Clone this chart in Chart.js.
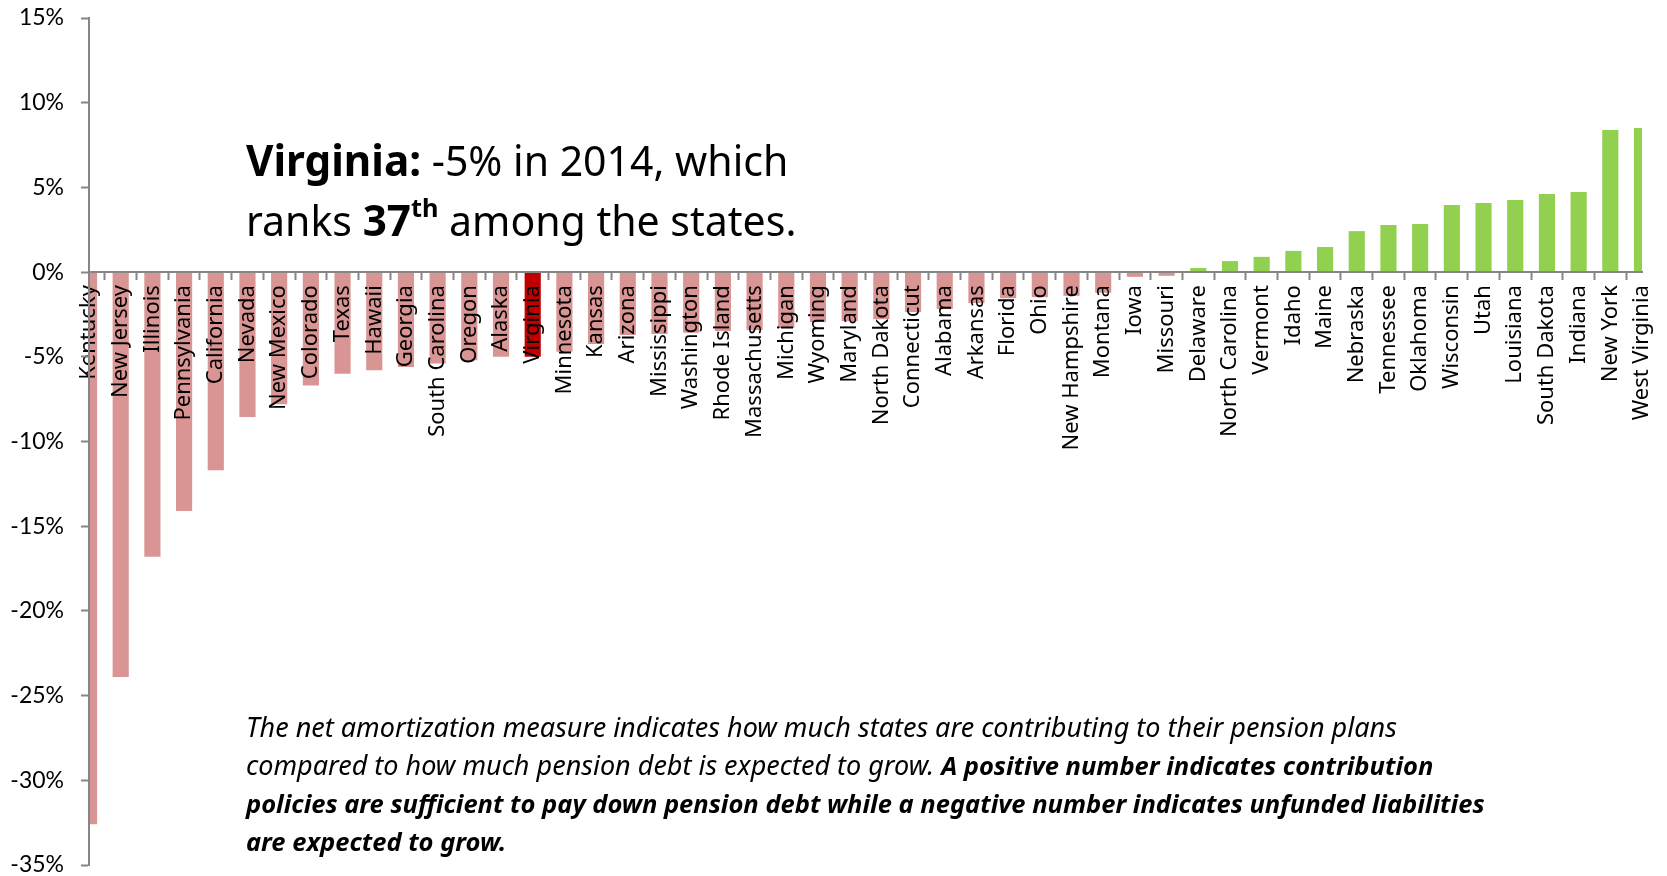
<!DOCTYPE html>
<html>
<head>
<meta charset="utf-8">
<script src="https://cdn.jsdelivr.net/npm/chart.js@4.4.1/dist/chart.umd.min.js"></script>
<style>
  html, body { margin: 0; padding: 0; background: #fff; }
  #wrap { position: relative; width: 1667px; height: 876px; }
  #callout {
    position: absolute; left: 246px; top: 130px;
    font-family: 'Noto Sans', sans-serif; font-size: 41px; line-height: 59px; color: #000;
    white-space: nowrap;
  }
  #callout b { font-size: 1.03em; }
  #callout sup { font-size: 60%; line-height: 0; vertical-align: 0; position: relative; top: -0.75em; }
  #note {
    position: absolute; left: 246px; top: 708px;
    font-family: 'Noto Sans', sans-serif; font-style: italic; font-size: 27px; line-height: 38px; color: #000;
    white-space: nowrap;
  }
  #note b { font-size: 0.945em; }
</style>
</head>
<body>
<div id="wrap">
  <canvas id="amortChart" width="1667" height="876"></canvas>
  <div id="callout"><b>Virginia:</b> -5% in 2014, which<br>ranks <b>37<sup>th</sup></b> among the states.</div>
  <div id="note">The net amortization measure indicates how much states are contributing to their pension plans<br>compared to how much pension debt is expected to grow. <b>A positive number indicates contribution</b><br><b>policies are sufficient to pay down pension debt while a negative number indicates unfunded liabilities</b><br><b>are expected to grow.</b></div>
</div>
<script>
// net amortization, 2014 (%), sorted low to high
const states = ['Kentucky', 'New Jersey', 'Illinois', 'Pennsylvania', 'California', 'Nevada', 'New Mexico',
  'Colorado', 'Texas', 'Hawaii', 'Georgia', 'South Carolina', 'Oregon', 'Alaska', 'Virginia',
  'Minnesota', 'Kansas', 'Arizona', 'Mississippi', 'Washington', 'Rhode Island', 'Massachusetts',
  'Michigan', 'Wyoming', 'Maryland', 'North Dakota', 'Connecticut', 'Alabama', 'Arkansas', 'Florida',
  'Ohio', 'New Hampshire', 'Montana', 'Iowa', 'Missouri', 'Delaware', 'North Carolina', 'Vermont',
  'Idaho', 'Maine', 'Nebraska', 'Tennessee', 'Oklahoma', 'Wisconsin', 'Utah', 'Louisiana',
  'South Dakota', 'Indiana', 'New York', 'West Virginia'];
const netAmortization = [-32.6, -23.9, -16.8, -14.1, -11.7, -8.55, -7.8,
  -6.7, -6.0, -5.8, -5.6, -5.4, -5.2, -5.0, -5.0,
  -4.7, -4.25, -3.72, -3.66, -3.58, -3.47, -3.42,
  -3.3, -2.95, -2.9, -2.78, -2.36, -2.18, -1.83, -1.54,
  -1.48, -1.4, -1.22, -0.28, -0.22, 0.24, 0.65, 0.9,
  1.25, 1.48, 2.42, 2.78, 2.84, 3.96, 4.08, 4.26,
  4.61, 4.73, 8.39, 8.51];
const highlight = 'Virginia';
const yTicks = [-35, -30, -25, -20, -15, -10, -5, 0, 5, 10, 15];

const barColors = states.map((s, i) => {
  if (s === highlight) return '#C00000';
  return netAmortization[i] < 0 ? '#D99594' : '#92D050';
});

const axisGray = '#868686';

// keep tick-label padding from pushing the plot area in
function noScalePadding(scale) {
  scale.paddingTop = 0;
  scale.paddingBottom = 0;
  scale.paddingLeft = 0;
  scale.paddingRight = 0;
}

new Chart(document.getElementById('amortChart'), {
  type: 'bar',
  data: {
    labels: states,
    datasets: [{
      data: netAmortization,
      backgroundColor: barColors,
      categoryPercentage: 1,
      barPercentage: 0.51,
      clip: 0
    }]
  },
  options: {
    responsive: false,
    animation: false,
    layout: { padding: { top: 18, right: 25, bottom: 11, left: 0 } },
    plugins: { legend: { display: false }, tooltip: { enabled: false } },
    scales: {
      x: {
        type: 'category',
        offset: false,
        position: { y: 0 },
        afterFit: noScalePadding,
        grid: { z: 1, drawOnChartArea: false, drawTicks: true, tickLength: 7, color: axisGray, tickWidth: 2 },
        border: { z: 1, color: axisGray, width: 2 },
        ticks: {
          z: 1, autoSkip: false, minRotation: 90, maxRotation: 90, padding: 6,
          color: '#000', font: { family: 'Noto Sans', size: 22 }
        }
      },
      y: {
        min: -35, max: 15,
        afterBuildTicks: (scale) => { scale.ticks = yTicks.map(v => ({ value: v })); },
        afterFit: (scale) => { scale.width = 89; noScalePadding(scale); },
        grid: { z: 1, drawOnChartArea: false, drawTicks: true, tickLength: 8, color: axisGray, tickWidth: 2 },
        border: { z: 1, color: axisGray, width: 2 },
        ticks: {
          padding: 17, color: '#000', font: { family: 'Lato', size: 23 },
          callback: (v) => v + '%'
        }
      }
    }
  }
});
</script>
</body>
</html>
